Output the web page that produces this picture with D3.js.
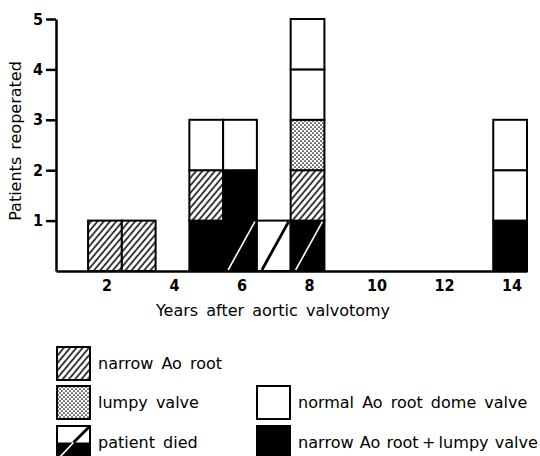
<!DOCTYPE html>
<html>
<head>
<meta charset="utf-8">
<script src="https://cdn.jsdelivr.net/npm/d3@7/dist/d3.min.js"></script>
<style>
  html, body { margin: 0; padding: 0; background: #fff; }
  svg text { font-family: "DejaVu Sans", sans-serif; fill: #000; }
  svg .tick text { font-family: "DejaVu Sans Condensed", "DejaVu Sans", sans-serif; }
</style>
</head>
<body>
<svg id="chart" width="540" height="456"></svg>
<script>
// Years after aortic valvotomy at which patients were reoperated
const years = [2, 3, 5, 6, 7, 8, 14];
// Patients per year by finding (stacked bottom to top in this order)
const bothCounts   = [0, 0, 1, 2, 0, 1, 1]; // narrow Ao root + lumpy valve
const narrowCounts = [1, 1, 1, 0, 0, 1, 0]; // narrow Ao root
const lumpyCounts  = [0, 0, 0, 0, 0, 1, 0]; // lumpy valve
const normalCounts = [0, 0, 1, 1, 1, 2, 2]; // normal Ao root dome valve
// Patients who died (lowest cell of the stack)
const diedCounts   = [0, 0, 0, 1, 1, 1, 0];

const xTicks = [2, 4, 6, 8, 10, 12, 14];
const yTicks = [1, 2, 3, 4, 5];

const categories = [
  { key: "both",   counts: bothCounts },
  { key: "narrow", counts: narrowCounts },
  { key: "lumpy",  counts: lumpyCounts },
  { key: "normal", counts: normalCounts }
];

const svg = d3.select("#chart");
const defs = svg.append("defs");

// diagonal hatching
const hatch = defs.append("pattern")
  .attr("id", "hatch").attr("patternUnits", "userSpaceOnUse")
  .attr("width", 4.8).attr("height", 4.8)
  .attr("patternTransform", "rotate(40)");
hatch.append("rect").attr("width", 4.8).attr("height", 4.8).attr("fill", "#fff");
hatch.append("line").attr("x1", 1).attr("x2", 1).attr("y1", 0).attr("y2", 4.8)
  .attr("stroke", "#000").attr("stroke-width", 1.5);

// stipple
const dots = defs.append("pattern")
  .attr("id", "dots").attr("patternUnits", "userSpaceOnUse")
  .attr("width", 4).attr("height", 4);
dots.append("rect").attr("width", 4).attr("height", 4).attr("fill", "#fff");
dots.append("circle").attr("cx", 1).attr("cy", 1).attr("r", 0.85).attr("fill", "#000");
dots.append("circle").attr("cx", 3).attr("cy", 3).attr("r", 0.85).attr("fill", "#000");

const fills = { both: "#000", narrow: "url(#hatch)", lumpy: "url(#dots)", normal: "#fff" };

const x = d3.scaleLinear().domain([0.55, 14.5]).range([56, 527]);
const y = d3.scaleLinear().domain([0, 5]).range([271, 19]);

// one cell per patient
const cells = [];
years.forEach((yr, i) => {
  let level = 0;
  categories.forEach(c => {
    for (let k = 0; k < c.counts[i]; k++) {
      cells.push({ year: yr, level, key: c.key, died: level < diedCounts[i] });
      level++;
    }
  });
});

const g = svg.append("g");
g.selectAll("rect.cell").data(cells).join("rect")
  .attr("class", "cell")
  .attr("x", d => x(d.year - 0.5))
  .attr("y", d => y(d.level + 1))
  .attr("width", d => x(d.year + 0.5) - x(d.year - 0.5))
  .attr("height", d => y(d.level) - y(d.level + 1))
  .attr("fill", d => fills[d.key])
  .attr("stroke", "#000").attr("stroke-width", 2);

// slash marking a patient who died
g.selectAll("line.died").data(cells.filter(d => d.died)).join("line")
  .attr("class", "died")
  .attr("x1", d => x(d.year - 0.5) + 5)
  .attr("y1", d => y(d.level) - 1)
  .attr("x2", d => x(d.year + 0.5) - 2)
  .attr("y2", d => y(d.level + 1) + 1)
  .attr("stroke", d => d.key === "both" ? "#fff" : "#000")
  .attr("stroke-width", d => d.key === "both" ? 1.6 : 2.8);

// axes
const yAxis = d3.axisLeft(y).tickValues(yTicks).tickFormat(d3.format("d"))
  .tickSize(10).tickSizeOuter(0).tickPadding(3);
const ya = svg.append("g").attr("transform", `translate(${x(0.55)},0)`).call(yAxis);
ya.select(".domain").attr("stroke-width", 2.5);
ya.selectAll(".tick line").attr("stroke-width", 2.5);
ya.selectAll(".tick text").attr("font-size", 16).attr("font-weight", "bold")
  .attr("font-family", null);

const xAxis = d3.axisBottom(x).tickValues(xTicks).tickFormat(d3.format("d"))
  .tickSize(0).tickSizeOuter(0).tickPadding(9);
const xa = svg.append("g").attr("transform", `translate(0,${y(0)})`).call(xAxis);
xa.select(".domain").attr("stroke-width", 2.5);
xa.selectAll(".tick text").attr("font-size", 16).attr("font-weight", "bold")
  .attr("font-family", null).attr("dx", 1.5);

svg.append("text")
  .attr("transform", `translate(21,${(y(0) + y(5)) / 2 - 4}) rotate(-90)`)
  .attr("text-anchor", "middle").attr("font-size", 16).attr("word-spacing", 2)
  .text("Patients reoperated");

svg.append("text")
  .attr("x", 273).attr("y", 316)
  .attr("text-anchor", "middle").attr("font-size", 16).attr("word-spacing", 3)
  .text("Years after aortic valvotomy");

// legend
const legendItems = [
  { key: "narrow", label: "narrow Ao root", lx: 57, ly: 347 },
  { key: "lumpy",  label: "lumpy valve",    lx: 57, ly: 386 },
  { key: "died",   label: "patient died",   lx: 57, ly: 426 },
  { key: "normal", label: "normal Ao root dome valve", lx: 257, ly: 386 },
  { key: "both",   label: "narrow Ao root\u2009+\u2009lumpy valve", lx: 257, ly: 426, fit: 240 }
];
const sw = 33, sh = 33;
const lg = svg.append("g");
legendItems.forEach(it => {
  const item = lg.append("g").attr("transform", `translate(${it.lx},${it.ly})`);
  if (it.key === "died") {
    item.append("rect").attr("width", sw).attr("height", sh).attr("fill", "#fff")
      .attr("stroke", "#000").attr("stroke-width", 2);
    item.append("rect").attr("y", sh / 2).attr("width", sw).attr("height", sh / 2).attr("fill", "#000");
    // slash: black across the white half, white across the black half
    item.append("line").attr("x1", sw / 2).attr("y1", sh / 2).attr("x2", sw - 1).attr("y2", 1)
      .attr("stroke", "#000").attr("stroke-width", 2.8);
    item.append("line").attr("x1", 2).attr("y1", sh - 1).attr("x2", sw / 2).attr("y2", sh / 2)
      .attr("stroke", "#fff").attr("stroke-width", 1.6);
  } else {
    item.append("rect").attr("width", sw).attr("height", sh).attr("fill", fills[it.key])
      .attr("stroke", "#000").attr("stroke-width", 2);
  }
  const t = item.append("text").attr("x", sw + 8).attr("y", sh / 2 + 5)
    .attr("font-size", 16).attr("word-spacing", it.fit ? 1 : 3).text(it.label);
  if (it.fit) t.attr("textLength", it.fit).attr("lengthAdjust", "spacingAndGlyphs");
});
</script>
</body>
</html>
